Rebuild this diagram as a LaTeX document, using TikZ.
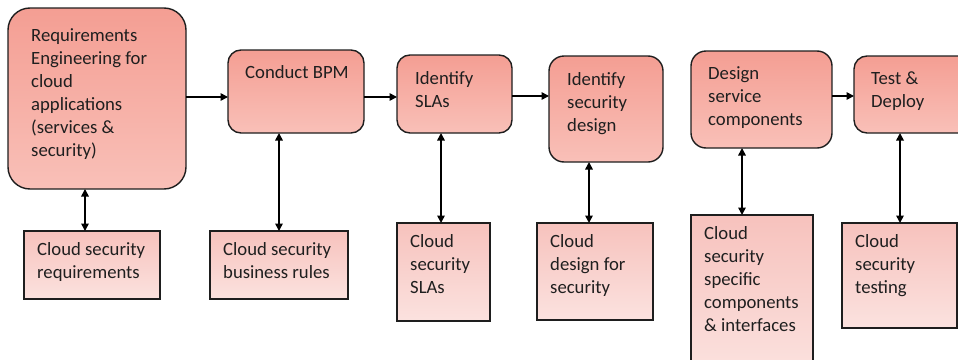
\documentclass[tikz,border=0pt]{standalone}
\usepackage{fontspec}
\setmainfont{Carlito}
\usetikzlibrary{arrows.meta}
\definecolor{stepTop}{RGB}{244,158,147}
\definecolor{stepBot}{RGB}{249,192,184}
\definecolor{outTop}{RGB}{247,194,189}
\definecolor{outBot}{RGB}{251,226,223}
\definecolor{edge}{RGB}{30,30,30}
\begin{document}
\begin{tikzpicture}[x=1pt,y=-1pt,
  box/.style 2 args={inner sep=0pt,outer sep=0pt,minimum width=#1,minimum height=#2},
  stepbox/.style={draw=edge,line width=1.4pt,top color=stepTop,bottom color=stepBot},
  outbox/.style={draw=edge,line width=1.4pt,top color=outTop,bottom color=outBot},
  txt/.style={anchor=north west,inner sep=0pt,align=left,text=black!88,
    font=\fontsize{18.7}{23}\selectfont},
  flow/.style={line width=1.6pt,draw=black,-{Triangle[length=7.5pt,width=7.5pt]}},
  link/.style={line width=1.6pt,draw=black,{Triangle[length=7.5pt,width=7.5pt]}-{Triangle[length=7.5pt,width=7.5pt]}}]
\useasboundingbox (0,0) rectangle (958,359);
\clip (0,0) rectangle (958,359);

% process steps
\node[stepbox,rounded corners=22pt,box={178pt}{181pt}] (B1) at (97,98.5) {};
\node[stepbox,rounded corners=13pt,box={136pt}{83pt}]  (B2) at (296,91.5) {};
\node[stepbox,rounded corners=13pt,box={115pt}{78pt}]  (B3) at (454.5,94) {};
\node[stepbox,rounded corners=15pt,box={114pt}{106pt}] (B4) at (606,109) {};
\node[stepbox,rounded corners=15pt,box={141pt}{97pt}]  (B5) at (761.5,99.5) {};
\node[stepbox,rounded corners=13pt,box={136pt}{77pt}]  (B6) at (922,94.5) {};

% outputs of each step
\node[outbox,box={136pt}{68pt}]  (C1) at (92,265) {};
\node[outbox,box={138pt}{68pt}]  (C2) at (279,265) {};
\node[outbox,box={93pt}{98pt}]   (C3) at (443.5,272) {};
\node[outbox,box={116pt}{97pt}]  (C4) at (595,271.5) {};
\node[outbox,box={122pt}{160pt}] (C5) at (752,295) {};
\node[outbox,box={115pt}{105pt}] (C6) at (899.5,275.5) {};

% labels
\node[txt] (t1) at (31,28.5) {Requirements\\Engineering for\\cloud\\applications\\(services \&\\security)};
\node[txt] (t2) at (245,65.5) {Conduct BPM};
\node[txt] (t3) at (415,71) {Identify\\SLAs};
\node[txt] (t4) at (567,72) {Identify\\security\\design};
\node[txt] (t5) at (708,66) {Design\\service\\components};
\node[txt] (t6) at (871,71.5) {Test \&\\Deploy};

\node[txt] (u1) at (37,242.5) {Cloud security\\requirements};
\node[txt] (u2) at (223,242.5) {Cloud security\\business rules};
\node[txt] (u3) at (410,234.5) {Cloud\\security\\SLAs};
\node[txt] (u4) at (550,234.5) {Cloud\\design for\\security};
\node[txt] (u5) at (704,226.5) {Cloud\\security\\specific\\components\\\& interfaces};
\node[txt] (u6) at (855,234.5) {Cloud\\security\\testing};

% rows and columns of the connectors
\coordinate (h1) at (0,97);
\coordinate (h2) at (0,96);
\coordinate (v1) at (85,0);
\coordinate (v2) at (279,0);
\coordinate (v3) at (441,0);
\coordinate (v4) at (589,0);
\coordinate (v5) at (742,0);
\coordinate (v6) at (900,0);

% flow between steps
\draw[flow] (B1.east |- h1) -- (B2.west |- h1);
\draw[flow] (B2.east |- h1) -- (B3.west |- h1);
\draw[flow] (B3.east |- h2) -- (B4.west |- h2);
\draw[flow] (B5.east |- h2) -- (B6.west |- h2);

% step <-> output links
\draw[link] (B1.south -| v1) -- (C1.north -| v1);
\draw[link] (B2.south -| v2) -- (C2.north -| v2);
\draw[link] (B3.south -| v3) -- (C3.north -| v3);
\draw[link] (B4.south -| v4) -- (C4.north -| v4);
\draw[link] (B5.south -| v5) -- (C5.north -| v5);
\draw[link] (B6.south -| v6) -- (C6.north -| v6);
\end{tikzpicture}
\end{document}
